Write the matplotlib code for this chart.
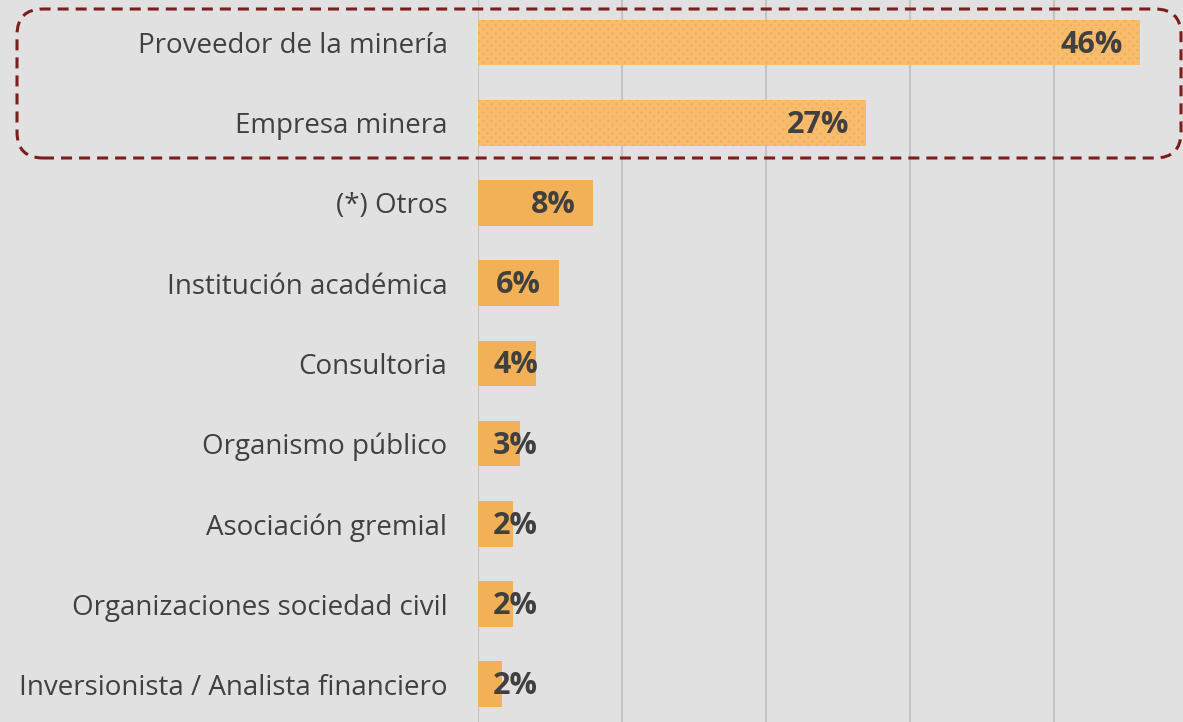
import matplotlib
matplotlib.use("Agg")
import matplotlib.pyplot as plt
from matplotlib.patches import FancyBboxPatch
from matplotlib.transforms import IdentityTransform

# data (top to bottom)
categories = [
    "Proveedor de la minería",
    "Empresa minera",
    "(*) Otros",
    "Institución académica",
    "Consultoria",
    "Organismo público",
    "Asociación gremial",
    "Organizaciones sociedad civil",
    "Inversionista / Analista financiero",
]
values = [46.0, 27.0, 8.0, 5.6, 4.0, 2.9, 2.4, 2.4, 1.7]
labels = ["46%", "27%", "8%", "6%", "4%", "3%", "2%", "2%", "2%"]
highlighted = [True, True, False, False, False, False, False, False, False]

BG = "#e1e1e1"
BAR = "#f2b157"
TEXT = "#404040"

plt.rcParams["font.family"] = ["Open Sans", "DejaVu Sans"]
plt.rcParams["hatch.linewidth"] = 2.5

W, H = 1183, 722
fig = plt.figure(figsize=(W / 100, H / 100), dpi=100, facecolor=BG)
ax = fig.add_axes([478 / W, 0, (W - 478) / W, 1], facecolor=BG)

y = list(range(len(categories)))
for i, (v, hl) in enumerate(zip(values, highlighted)):
    if hl:
        ax.barh(i, v, height=0.57, color=BAR, edgecolor="#f8bc6e",
                hatch="xxxx", linewidth=0, zorder=3)
    else:
        ax.barh(i, v, height=0.57, color=BAR, linewidth=0, zorder=3)

ax.set_xlim(0, 49)
ax.set_ylim(len(categories) - 0.53, -0.53)
ax.set_xticks([0, 10, 20, 30, 40])
ax.xaxis.grid(True, color="#c4c4c4", linewidth=1.5, zorder=0)
ax.set_axisbelow(True)
ax.tick_params(axis="x", length=0, labelbottom=False)
ax.set_yticks(y)
ax.set_yticklabels(categories, fontsize=20, color=TEXT)
ax.tick_params(axis="y", length=0, pad=22)
for s in ax.spines.values():
    s.set_visible(False)

# value labels: inside the bar end, or just after the base for short bars
for i, (v, lab) in enumerate(zip(values, labels)):
    if v >= 5:
        ax.annotate(lab, (v, i), xytext=(-12.5, -1.5), textcoords="offset points",
                    ha="right", va="center", fontsize=22, fontweight="bold",
                    color=TEXT, zorder=4)
    else:
        ax.annotate(lab, (0, i), xytext=(11, -1.5), textcoords="offset points",
                    ha="left", va="center", fontsize=22, fontweight="bold",
                    color=TEXT, zorder=4)

# dashed rounded box around the top two categories (pixel coords, top-left origin)
x0, y0, x1, y1 = 17, 9, 1181, 158
r = 26
box = FancyBboxPatch((x0 + r, H - y1 + r), x1 - x0 - 2 * r, y1 - y0 - 2 * r,
                     boxstyle=f"round,pad={r},rounding_size={r}",
                     transform=IdentityTransform(), fill=False,
                     edgecolor="#7b1e1e", linewidth=2.2,
                     linestyle=(0, (3.6, 2.3)), zorder=10)
fig.patches.append(box)

fig.savefig("out.png", dpi=100, facecolor=BG)
